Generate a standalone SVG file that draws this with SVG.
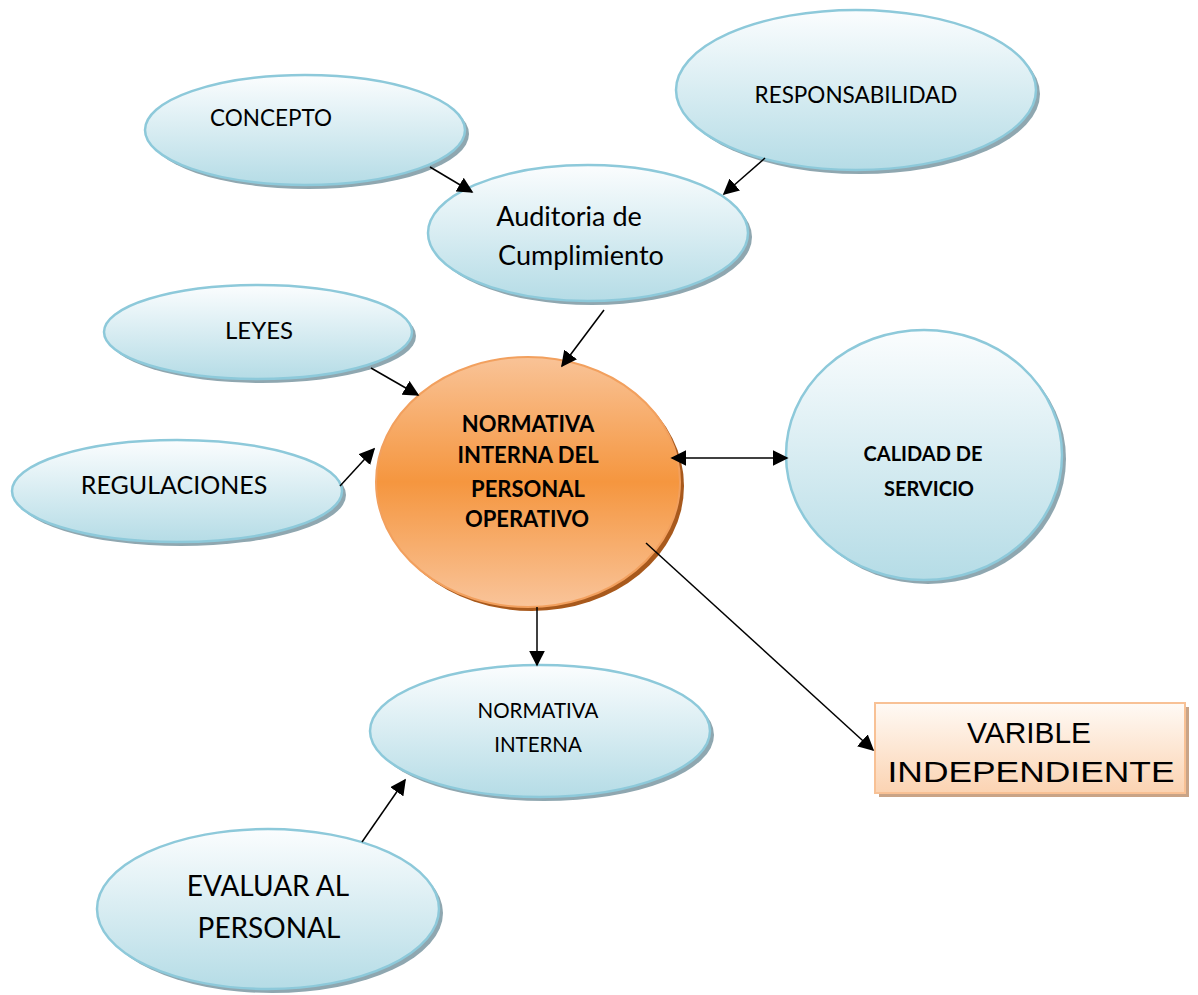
<svg xmlns="http://www.w3.org/2000/svg" width="1198" height="995" viewBox="0 0 1198 995">
<defs>
<linearGradient id="gBlue" x1="0" y1="0" x2="0" y2="1">
<stop offset="0" stop-color="#fbfdfe"/>
<stop offset="1" stop-color="#b5dce6"/>
</linearGradient>
<linearGradient id="gOrange" x1="0" y1="0" x2="0" y2="1">
<stop offset="0" stop-color="#f9c397"/>
<stop offset="0.5" stop-color="#f5963f"/>
<stop offset="1" stop-color="#f9c49a"/>
</linearGradient>
<linearGradient id="gBox" x1="0" y1="0" x2="0" y2="1">
<stop offset="0" stop-color="#fffaf5"/>
<stop offset="1" stop-color="#fbd3b2"/>
</linearGradient>
<marker id="ahL" viewBox="0 0 10 10" refX="9" refY="5" markerWidth="16" markerHeight="16" markerUnits="userSpaceOnUse" orient="auto-start-reverse">
<path d="M0,0 L10,5 L0,10 z" fill="#000"/>
</marker>
</defs>
<style>
.sh{fill:#8fa7b0}
.bl{fill:url(#gBlue);stroke:#8dc9da;stroke-width:2.5}
.t{font-family:Lato,"Open Sans",sans-serif;fill:#000;text-anchor:middle}
.b{font-weight:bold}
.a{font-family:"Liberation Sans",Arial,sans-serif;fill:#000;text-anchor:middle}
.c{stroke:#000;stroke-width:1.5;fill:none;marker-end:url(#ahL)}
</style>
<rect width="1198" height="995" fill="#fff"/>
<g id="concepto">
<ellipse class="sh" cx="309" cy="134" rx="160" ry="55"/>
<ellipse class="bl" cx="305" cy="130" rx="160" ry="55"/>
<text class="t" x="271" y="126" font-size="22.5">CONCEPTO</text>
</g>
<g id="responsabilidad">
<ellipse class="sh" cx="860" cy="94" rx="180" ry="80"/>
<ellipse class="bl" cx="856" cy="90" rx="180" ry="80"/>
<text class="t" x="856" y="103" font-size="22.5">RESPONSABILIDAD</text>
</g>
<g id="auditoria">
<ellipse class="sh" cx="592" cy="237" rx="160" ry="68"/>
<ellipse class="bl" cx="588" cy="233" rx="160" ry="68"/>
<text class="t" x="569" y="226" font-size="27">Auditoria de</text>
<text class="t" x="581" y="265" font-size="27">Cumplimiento</text>
</g>
<g id="leyes">
<ellipse class="sh" cx="262" cy="336" rx="154" ry="47"/>
<ellipse class="bl" cx="258" cy="332" rx="154" ry="47"/>
<text class="t" x="259" y="339" font-size="24">LEYES</text>
</g>
<g id="regulaciones">
<ellipse class="sh" cx="181" cy="495" rx="165" ry="51"/>
<ellipse class="bl" cx="177" cy="491" rx="165" ry="51"/>
<text class="t" x="174" y="494" font-size="25">REGULACIONES</text>
</g>
<g id="normativa-personal">
<ellipse cx="532" cy="486" rx="152" ry="125" fill="#a8591c"/>
<ellipse cx="528" cy="482" rx="152" ry="125" fill="url(#gOrange)" stroke="#f2a05e" stroke-width="2"/>
<text class="t b" x="528" y="432" font-size="22">NORMATIVA</text>
<text class="t b" x="528" y="463" font-size="22">INTERNA DEL</text>
<text class="t b" x="528" y="497" font-size="22">PERSONAL</text>
<text class="t b" x="527" y="527" font-size="22">OPERATIVO</text>
</g>
<g id="calidad">
<ellipse class="sh" cx="928" cy="459" rx="138" ry="125"/>
<ellipse class="bl" cx="924" cy="455" rx="138" ry="125"/>
<text class="t b" x="923" y="461" font-size="20">CALIDAD DE</text>
<text class="t b" x="929" y="496" font-size="20">SERVICIO</text>
</g>
<g id="normativa-interna">
<ellipse class="sh" cx="544" cy="735" rx="170" ry="66"/>
<ellipse class="bl" cx="540" cy="731" rx="170" ry="66"/>
<text class="t" x="538" y="718" font-size="20.5">NORMATIVA</text>
<text class="t" x="538" y="752" font-size="20.5">INTERNA</text>
</g>
<g id="evaluar">
<ellipse class="sh" cx="272" cy="913" rx="171" ry="80"/>
<ellipse class="bl" cx="268" cy="909" rx="171" ry="80"/>
<text class="t" x="268" y="896" font-size="28">EVALUAR AL</text>
<text class="t" x="269" y="938" font-size="28">PERSONAL</text>
</g>
<g id="varible">
<rect x="879" y="707" width="310" height="90" fill="#c9a487"/>
<rect x="875" y="703" width="310" height="90" fill="url(#gBox)" stroke="#f8c195" stroke-width="2"/>
<text class="a" x="1029" y="743" font-size="29" textLength="124" lengthAdjust="spacingAndGlyphs">VARIBLE</text>
<text class="a" x="1031" y="782" font-size="29" textLength="287" lengthAdjust="spacingAndGlyphs">INDEPENDIENTE</text>
</g>
<g id="connectors">
<line class="c" x1="430" y1="167" x2="472" y2="192"/>
<line class="c" x1="765" y1="158" x2="724" y2="194"/>
<line class="c" x1="604" y1="310" x2="562" y2="366"/>
<line class="c" x1="371" y1="368" x2="418" y2="395"/>
<line class="c" x1="340" y1="486" x2="374" y2="449"/>
<line class="c" x1="672" y1="458" x2="787" y2="458" marker-start="url(#ahL)"/>
<line class="c" x1="537" y1="607" x2="537" y2="665"/>
<line class="c" x1="646" y1="543" x2="873" y2="750"/>
<line class="c" x1="362" y1="842" x2="405" y2="780"/>
</g>
</svg>
